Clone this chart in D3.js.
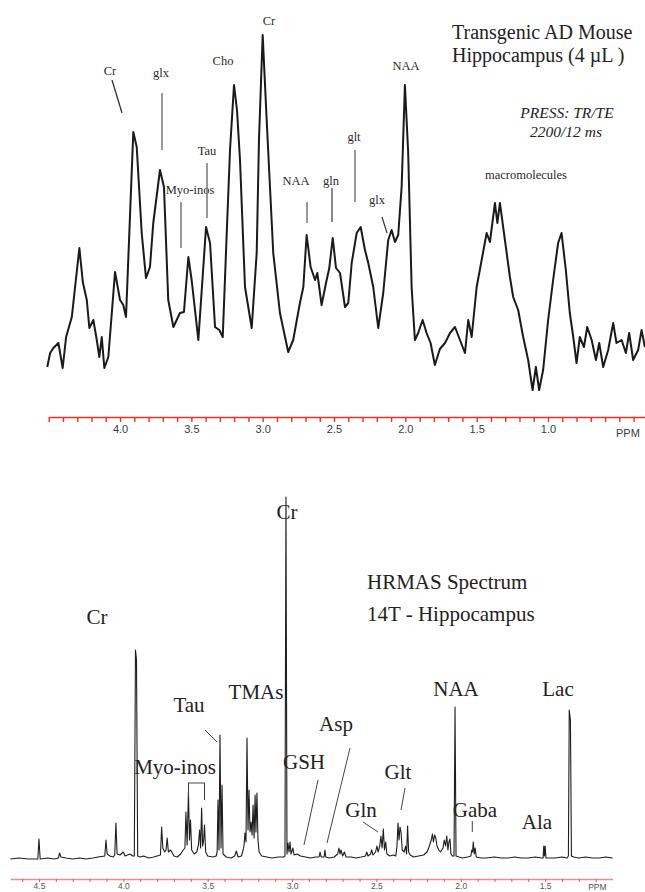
<!DOCTYPE html>
<html>
<head>
<meta charset="utf-8">
<script src="https://cdn.jsdelivr.net/npm/d3@7"></script>
<style>
  body { margin: 0; background: #fff; }
  svg { display: block; }
  .serif { font-family: "Liberation Serif", "Times New Roman", serif; }
  .sans { font-family: "Liberation Sans", Arial, sans-serif; }
</style>
</head>
<body>
<div id="chart"></div>
<script>
// upper spectrum: in vivo PRESS, ppm vs intensity (arbitrary units)
const topPpm = [4.51, 4.49, 4.467, 4.432, 4.402, 4.378, 4.338, 4.285, 4.261, 4.233, 4.215, 4.187, 4.163, 4.145,
  4.128, 4.11, 4.082, 4.035, 4.0, 3.977, 3.958, 3.907, 3.883, 3.848, 3.818, 3.79, 3.767, 3.72, 3.692, 3.662,
  3.626, 3.58, 3.552, 3.521, 3.498, 3.451, 3.397, 3.369, 3.334, 3.304, 3.28, 3.252, 3.229, 3.201, 3.18, 3.159,
  3.124, 3.077, 3.042, 3.026, 3.0, 2.972, 2.926, 2.879, 2.821, 2.786, 2.739, 2.715, 2.692, 2.664, 2.633, 2.617,
  2.587, 2.556, 2.533, 2.509, 2.486, 2.458, 2.423, 2.4, 2.376, 2.341, 2.313, 2.283, 2.26, 2.225, 2.19, 2.155,
  2.12, 2.096, 2.073, 2.05, 2.026, 2.003, 1.98, 1.956, 1.933, 1.91, 1.879, 1.851, 1.823, 1.793, 1.758, 1.722,
  1.687, 1.652, 1.617, 1.582, 1.559, 1.535, 1.5, 1.465, 1.43, 1.407, 1.372, 1.355, 1.337, 1.302, 1.267, 1.244,
  1.209, 1.174, 1.139, 1.108, 1.085, 1.062, 1.034, 0.999, 0.964, 0.929, 0.905, 0.875, 0.847, 0.823, 0.8, 0.777,
  0.748, 0.725, 0.694, 0.664, 0.641, 0.613, 0.578, 0.543, 0.52, 0.484, 0.454, 0.431, 0.403, 0.368, 0.344, 0.321];
const topIntensity = [33, 47, 52, 57, 32, 63, 83, 152, 118, 100, 72, 80, 60, 43,
  63, 32, 43, 128, 100, 95, 83, 268, 253, 167, 122, 133, 177, 230, 213, 100,
  73, 87, 88, 143, 120, 60, 173, 157, 73, 70, 63, 167, 250, 315, 290, 240,
  113, 72, 147, 260, 365, 280, 147, 87, 48, 60, 97, 113, 165, 133, 120, 127,
  95, 117, 132, 162, 132, 127, 93, 97, 137, 167, 173, 150, 137, 113, 72, 107,
  160, 170, 158, 165, 213, 315, 247, 113, 60, 67, 80, 67, 57, 35, 51, 57,
  67, 73, 60, 47, 80, 63, 113, 140, 167, 158, 197, 177, 197, 160, 123, 103,
  90, 63, 40, 10, 33, 10, 30, 80, 120, 157, 167, 130, 87, 63, 37, 63,
  53, 73, 60, 40, 57, 33, 50, 77, 57, 60, 47, 67, 40, 50, 70, 53];

// lower spectrum: HRMAS 14T, ppm vs intensity (arbitrary units)
const hrPpm = [4.67, 4.62, 4.56, 4.507, 4.5, 4.493, 4.45, 4.41, 4.385, 4.378, 4.37, 4.34, 4.3, 4.26, 4.22, 4.18,
  4.15, 4.11, 4.103, 4.096, 4.08, 4.06, 4.051, 4.044, 4.037, 4.02, 4.0, 3.99, 3.96, 3.945, 3.935, 3.928, 3.922,
  3.915, 3.9, 3.88, 3.85, 3.82, 3.8, 3.78, 3.773, 3.766, 3.755, 3.747, 3.74, 3.733, 3.72, 3.7, 3.68, 3.66,
  3.645, 3.635, 3.629, 3.622, 3.614, 3.608, 3.602, 3.595, 3.58, 3.565, 3.555, 3.548, 3.542, 3.536, 3.53, 3.524,
  3.519, 3.512, 3.5, 3.47, 3.45, 3.444, 3.439, 3.433, 3.427, 3.421, 3.415, 3.409, 3.39, 3.36, 3.34, 3.33,
  3.32, 3.3, 3.29, 3.285, 3.279, 3.273, 3.267, 3.261, 3.255, 3.249, 3.243, 3.237, 3.231, 3.225, 3.219, 3.214,
  3.208, 3.202, 3.195, 3.18, 3.15, 3.12, 3.08, 3.05, 3.042, 3.036, 3.03, 3.024, 3.018, 3.012, 3.006, 2.995,
  2.988, 2.97, 2.95, 2.92, 2.89, 2.86, 2.84, 2.834, 2.828, 2.81, 2.805, 2.8, 2.78, 2.75, 2.73, 2.722,
  2.716, 2.71, 2.7, 2.69, 2.68, 2.65, 2.62, 2.59, 2.565, 2.557, 2.55, 2.535, 2.528, 2.52, 2.505, 2.497,
  2.49, 2.48, 2.473, 2.466, 2.459, 2.452, 2.445, 2.438, 2.42, 2.4, 2.385, 2.378, 2.372, 2.366, 2.36, 2.354,
  2.347, 2.335, 2.327, 2.321, 2.315, 2.309, 2.3, 2.28, 2.25, 2.22, 2.2, 2.19, 2.175, 2.168, 2.162, 2.155,
  2.148, 2.141, 2.13, 2.12, 2.105, 2.098, 2.09, 2.083, 2.076, 2.07, 2.064, 2.058, 2.05, 2.04, 2.034, 2.028,
  2.01, 1.99, 1.96, 1.94, 1.935, 1.93, 1.926, 1.92, 1.915, 1.908, 1.88, 1.85, 1.8, 1.76, 1.72, 1.68,
  1.64, 1.6, 1.56, 1.52, 1.512, 1.508, 1.504, 1.5, 1.495, 1.47, 1.44, 1.4, 1.37, 1.362, 1.357, 1.35,
  1.344, 1.33, 1.3, 1.26, 1.22, 1.18, 1.14, 1.1];
const hrIntensity = [1, 2, 1, 1, 21, 1, 2, 1, 2, 7, 3, 2, 1, 2, 1, 2,
  3, 4, 20, 6, 4, 3, 5, 37, 6, 5, 8, 4, 6, 4, 4, 210, 200,
  4, 3, 4, 2, 3, 4, 5, 33, 12, 8, 10, 22, 8, 10, 4, 3, 6,
  10, 12, 48, 15, 68, 20, 40, 10, 6, 8, 15, 30, 12, 52, 14, 20,
  35, 8, 4, 3, 4, 8, 60, 10, 125, 12, 75, 6, 3, 2, 4, 9,
  3, 4, 10, 14, 27, 18, 122, 30, 70, 28, 38, 25, 55, 22, 65, 28,
  67, 20, 8, 4, 3, 2, 3, 3, 4, 363, 6, 17, 8, 18, 6, 12,
  5, 6, 4, 3, 2, 3, 3, 8, 3, 3, 10, 3, 2, 3, 6, 12,
  6, 10, 4, 8, 3, 3, 2, 3, 4, 8, 4, 6, 10, 5, 8, 14,
  8, 14, 24, 12, 31, 10, 18, 6, 4, 5, 4, 14, 37, 20, 33, 28,
  10, 8, 14, 6, 34, 8, 5, 3, 4, 5, 8, 12, 20, 26, 18, 25,
  22, 14, 10, 8, 12, 20, 14, 24, 10, 18, 21, 6, 4, 4, 153, 4,
  3, 2, 3, 4, 10, 8, 18, 6, 12, 3, 2, 2, 3, 2, 2, 3,
  2, 2, 3, 2, 2, 14, 4, 14, 2, 2, 2, 3, 2, 4, 150, 140,
  4, 3, 2, 3, 2, 2, 3, 2];

const topTickLabels = ['4.0', '3.5', '3.0', '2.5', '2.0', '1.5', '1.0'];
const hrTickLabels = ['4.5', '4.0', '3.5', '3.0', '2.5', '2.0', '1.5'];

const topLabels = ['Cr', 'glx', 'Cho', 'Cr', 'Tau', 'Myo-inos', 'NAA', 'gln', 'glt', 'glx', 'NAA', 'macromolecules'];
const hrLabels = ['Cr', 'Cr', 'TMAs', 'Tau', 'Myo-inos', 'GSH', 'Asp', 'Gln', 'Glt', 'NAA', 'Gaba', 'Ala', 'Lac'];

const width = 645;
const height = 892;

const svg = d3.select('#chart').append('svg')
  .attr('width', width)
  .attr('height', height);

svg.append('rect').attr('width', width).attr('height', height).attr('fill', '#fff');

// ---------- upper panel ----------
const topX = d3.scaleLinear().domain([4.5, 0.32]).range([48.7, 645]);
const topY = d3.scaleLinear().domain([0, 365]).range([400, 35]);

const topLine = d3.line()
  .x((d) => topX(d[0]))
  .y((d) => topY(d[1]));

svg.append('path')
  .datum(d3.zip(topPpm, topIntensity))
  .attr('d', topLine)
  .attr('fill', 'none')
  .attr('stroke', '#1a1a1a')
  .attr('stroke-width', 2)
  .attr('stroke-linejoin', 'round');

const topAxis = svg.append('g')
  .attr('class', 'sans')
  .attr('transform', 'translate(0, 417)')
  .call(d3.axisBottom(topX)
    .tickValues(d3.range(45, 3, -1).map((v) => v / 10))
    .tickSize(5)
    .tickSizeOuter(0)
    .tickFormat((d) => {
      const s = d.toFixed(1);
      return topTickLabels.includes(s) ? s : '';
    }));
topAxis.select('.domain').attr('stroke', '#e8302a').attr('stroke-width', 1.6);
topAxis.selectAll('.tick line').attr('stroke', '#e8302a').attr('stroke-width', 1.4);
topAxis.selectAll('.tick text').attr('fill', '#3c3c3c').attr('font-size', 11).attr('dy', '0.7em');

svg.append('text')
  .attr('class', 'sans')
  .attr('x', topX(0.44))
  .attr('y', 437)
  .attr('text-anchor', 'middle')
  .attr('font-size', 11)
  .attr('fill', '#3c3c3c')
  .text('PPM');

const topLabelPos = [[110, 75], [161, 77], [223, 65], [269, 25], [207, 155], [190, 194],
  [296, 185], [331, 185], [354, 141], [377, 204], [406, 70], [526, 179]];

svg.append('g')
  .attr('class', 'serif')
  .selectAll('text')
  .data(topLabels)
  .enter().append('text')
  .attr('x', (d, i) => topLabelPos[i][0])
  .attr('y', (d, i) => topLabelPos[i][1])
  .attr('text-anchor', 'middle')
  .attr('font-size', 12.5)
  .attr('fill', '#2a2a2a')
  .text((d) => d);

const topLeaders = [
  { x1: 112, y1: 80, x2: 122, y2: 113, c: '#333', w: 1.3 },
  { x1: 162, y1: 93, x2: 162, y2: 150, c: '#9a9a9a', w: 2 },
  { x1: 207, y1: 163, x2: 207, y2: 218, c: '#777', w: 1.5 },
  { x1: 181, y1: 202, x2: 181, y2: 248, c: '#9a9a9a', w: 2 },
  { x1: 307, y1: 202, x2: 307, y2: 223, c: '#9a9a9a', w: 2 },
  { x1: 332, y1: 188, x2: 332, y2: 222, c: '#555', w: 1.4 },
  { x1: 355, y1: 150, x2: 355, y2: 202, c: '#9a9a9a', w: 2 },
  { x1: 382, y1: 217, x2: 387, y2: 233, c: '#333', w: 1.2 },
];

svg.append('g')
  .selectAll('line')
  .data(topLeaders)
  .enter().append('line')
  .attr('x1', (d) => d.x1)
  .attr('y1', (d) => d.y1)
  .attr('x2', (d) => d.x2)
  .attr('y2', (d) => d.y2)
  .attr('stroke', (d) => d.c)
  .attr('stroke-width', (d) => d.w);

const title = svg.append('g').attr('class', 'serif').attr('fill', '#222');
title.append('text').attr('x', 452).attr('y', 39).attr('font-size', 20).text('Transgenic AD Mouse');
title.append('text').attr('x', 452).attr('y', 62).attr('font-size', 20).text('Hippocampus (4 \u00b5L )');
title.append('text').attr('x', 567).attr('y', 118).attr('font-size', 15.5)
  .attr('font-style', 'italic').attr('text-anchor', 'middle').text('PRESS: TR/TE');
title.append('text').attr('x', 566).attr('y', 137).attr('font-size', 15.5)
  .attr('font-style', 'italic').attr('text-anchor', 'middle').text('2200/12 ms');

// ---------- lower panel ----------
const hrX = d3.scaleLinear().domain([4.67, 1.1]).range([10.3, 612.6]);
const hrY = d3.scaleLinear().domain([0, 363]).range([860, 497]);

const hrLine = d3.line()
  .x((d) => hrX(d[0]))
  .y((d) => hrY(d[1]));

svg.append('path')
  .datum(d3.zip(hrPpm, hrIntensity))
  .attr('d', hrLine)
  .attr('fill', 'none')
  .attr('stroke', '#1e1e1e')
  .attr('stroke-width', 1.1)
  .attr('stroke-linejoin', 'round');

const hrAxis = svg.append('g')
  .attr('class', 'sans')
  .attr('transform', 'translate(0, 879)')
  .call(d3.axisBottom(hrX)
    .tickValues(d3.range(46, 11, -1).map((v) => v / 10))
    .tickSize(3)
    .tickSizeOuter(0)
    .tickFormat((d) => {
      const s = d.toFixed(1);
      return hrTickLabels.includes(s) ? s : '';
    }));
hrAxis.select('.domain').attr('stroke', '#f08c8c').attr('stroke-width', 1.3);
hrAxis.selectAll('.tick line').attr('stroke', '#b07070').attr('stroke-width', 1);
hrAxis.selectAll('.tick text').attr('fill', '#555').attr('font-size', 8.5).attr('dy', '0.45em');

svg.append('text')
  .attr('class', 'sans')
  .attr('x', hrX(1.19))
  .attr('y', 890)
  .attr('text-anchor', 'middle')
  .attr('font-size', 8.5)
  .attr('fill', '#555')
  .text('PPM');

const hrLabelPos = [[287, 519], [97, 624], [256, 699], [189, 712], [175, 774], [304, 769], [336, 731],
  [361, 817], [398, 779], [456, 696], [475, 817], [537, 829], [558, 696]];

svg.append('g')
  .attr('class', 'serif')
  .selectAll('text')
  .data(hrLabels)
  .enter().append('text')
  .attr('x', (d, i) => hrLabelPos[i][0])
  .attr('y', (d, i) => hrLabelPos[i][1])
  .attr('text-anchor', 'middle')
  .attr('font-size', 21)
  .attr('fill', '#222')
  .text((d) => d);

const hrTitle = svg.append('g').attr('class', 'serif').attr('fill', '#222').attr('font-size', 21);
hrTitle.append('text').attr('x', 367).attr('y', 589).text('HRMAS Spectrum');
hrTitle.append('text').attr('x', 367).attr('y', 621).text('14T - Hippocampus');

const hrLeaders = [
  [205, 730, 217, 742],
  [318, 780, 304, 845],
  [350, 748, 327, 843],
  [363, 822, 378, 832],
  [405, 788, 401, 810],
  [472.3, 821, 472.3, 832],
];

svg.append('g')
  .selectAll('line')
  .data(hrLeaders)
  .enter().append('line')
  .attr('x1', (d) => d[0])
  .attr('y1', (d) => d[1])
  .attr('x2', (d) => d[2])
  .attr('y2', (d) => d[3])
  .attr('stroke', '#444')
  .attr('stroke-width', 1);

svg.append('path')
  .attr('d', 'M188.5,797V783H204.5V800')
  .attr('fill', 'none')
  .attr('stroke', '#444')
  .attr('stroke-width', 1.1);
</script>
</body>
</html>
